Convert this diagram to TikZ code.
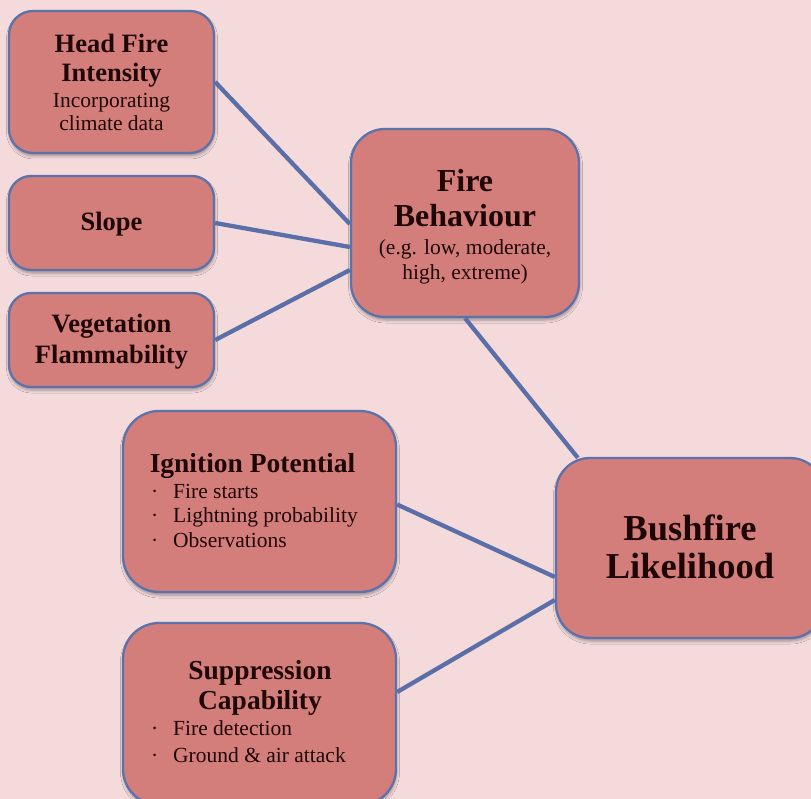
\documentclass[tikz,border=0pt]{standalone}
\usepackage{fontspec}
\setmainfont{Liberation Serif}
\usetikzlibrary{shadows.blur}
\definecolor{bg}{HTML}{F4DADB}
\definecolor{boxfill}{HTML}{D47E7B}
\definecolor{boxline}{HTML}{5B72AA}
\definecolor{conn}{HTML}{5A6FA8}
\definecolor{txt}{HTML}{1E0606}
\tikzset{
  box/.style={draw=boxline, line width=2.3pt, fill=boxfill, rounded corners=#1,
    blur shadow={shadow xshift=0.5pt, shadow yshift=-3pt, shadow opacity=35, shadow blur radius=3pt}},
  ttl/.style={text=txt, inner sep=0pt, anchor=base, font=\bfseries\fontsize{26.5}{30}\selectfont},
  midttl/.style={ttl, font=\bfseries\fontsize{27.5}{30}\selectfont},
  bigttl/.style={text=txt, inner sep=0pt, anchor=base, font=\bfseries\fontsize{32}{36}\selectfont},
  hugettl/.style={text=txt, inner sep=0pt, anchor=base, font=\bfseries\fontsize{36.5}{40}\selectfont},
  sub/.style={text=txt, inner sep=0pt, anchor=base, font=\fontsize{21.5}{24}\selectfont},
  bul/.style={text=txt, inner sep=0pt, anchor=base west, font=\fontsize{21.5}{24}\selectfont},
  connector/.style={draw=conn, line width=4.3pt},
}
\begin{document}
\begin{tikzpicture}[x=1pt,y=-1pt]
\useasboundingbox (0,0) rectangle (811,799);
\clip (0,0) rectangle (811,799);
\fill[bg] (0,0) rectangle (811,799);

% boxes
\node[box=24pt, minimum width=205pt, minimum height=142pt] (hfi) at (111.5,82) {};
\node[box=22pt, minimum width=205pt, minimum height=94pt] (slope) at (111.5,223) {};
\node[box=22pt, minimum width=205pt, minimum height=94pt] (veg) at (111.5,340) {};
\node[box=34pt, minimum width=228pt, minimum height=188pt] (fb) at (465,223) {};
\node[box=36pt, minimum width=273pt, minimum height=181pt] (ign) at (259.5,501.5) {};
\node[box=36pt, minimum width=273pt, minimum height=182pt] (sup) at (259.5,714) {};
\node[box=34pt, minimum width=268pt, minimum height=180pt] (bl) at (690,548) {};

% connectors
\coordinate (fbA) at ([yshift=-1pt]fb.west);
\coordinate (fbB) at ([yshift=-24pt]fb.west);
\coordinate (fbC) at ([yshift=-47pt]fb.west);
\coordinate (blT) at ([xshift=23pt,yshift=-1pt]bl.north west);
\coordinate (blA) at ([yshift=-29pt]bl.west);
\coordinate (blB) at ([yshift=-52pt]bl.west);
\coordinate (ignE) at ([yshift=-3pt]ign.east);
\coordinate (supE) at ([yshift=22pt]sup.east);
\draw[connector] (hfi.east) -- (fbA);
\draw[connector] (slope.east) -- (fbB);
\draw[connector] (veg.east) -- (fbC);
\draw[connector] (fb.south) -- (blT);
\draw[connector] (ignE) -- (blA);
\draw[connector] (supE) -- (blB);

% texts
\node[ttl] (hfi-t1) at (111.5,53) {Head Fire};
\node[ttl] (hfi-t2) at (111.5,82) {Intensity};
\node[sub] (hfi-t3) at (111.5,108) {Incorporating};
\node[sub] (hfi-t4) at (111.5,131) {climate data};

\node[ttl] (slope-t) at (111.5,231) {Slope};

\node[ttl] (veg-t1) at (111.5,333) {Vegetation};
\node[ttl] (veg-t2) at (111.5,363) {Flammability};

\node[bigttl] (fb-t1) at (465,192) {Fire};
\node[bigttl] (fb-t2) at (465,227) {Behaviour};
\node[sub] (fb-t3) at (465,255) {(e.g. low, moderate,};
\node[sub] (fb-t4) at (465,280) {high, extreme)};

\node[hugettl] (bl-t1) at (690,540) {Bushfire};
\node[hugettl] (bl-t2) at (690,578) {Likelihood};

\node[midttl] (ign-t) at (252.5,472) {Ignition Potential};
\node[bul] (ign-d1) at (151,498) {·};
\node[bul] (ign-b1) at (173,498) {Fire starts};
\node[bul] (ign-d2) at (151,522) {·};
\node[bul] (ign-b2) at (173,522) {Lightning probability};
\node[bul] (ign-d3) at (151,547) {·};
\node[bul] (ign-b3) at (173,547) {Observations};

\node[midttl] (sup-t1) at (260,679) {Suppression};
\node[midttl] (sup-t2) at (260,709) {Capability};
\node[bul] (sup-d1) at (151,735) {·};
\node[bul] (sup-b1) at (173,735) {Fire detection};
\node[bul] (sup-d2) at (151,762) {·};
\node[bul] (sup-b2) at (173,762) {Ground \& air attack};
\end{tikzpicture}
\end{document}
